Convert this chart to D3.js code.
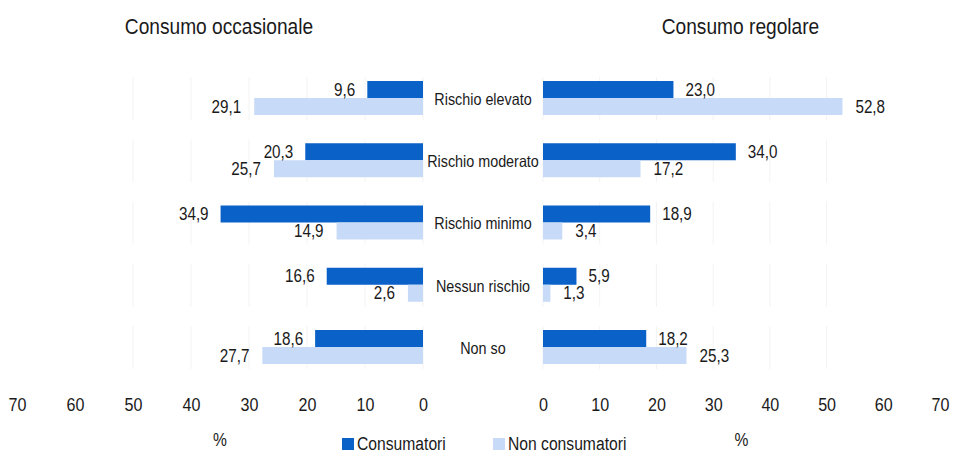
<!DOCTYPE html>
<html lang="it">
<head>
  <meta charset="UTF-8">
  <title>Consumo occasionale / regolare</title>
  <style>
    body { margin: 0; background: #fff; }
    svg { display: block; }
    text {
      font-family: "Liberation Sans", Arial, sans-serif;
      fill: #1a1a1a;
    }
    .grid line { stroke: #f3f3f3; stroke-width: 1; }
  </style>
</head>
<body>
  <script src="https://d3js.org/d3.v7.min.js"></script>
  <script>
    // data
    const categories = ['Rischio elevato', 'Rischio moderato', 'Rischio minimo', 'Nessun rischio', 'Non so'];
    const occasionaleConsumatori = [9.6, 20.3, 34.9, 16.6, 18.6];
    const occasionaleNonConsumatori = [29.1, 25.7, 14.9, 2.6, 27.7];
    const regolareConsumatori = [23.0, 34.0, 18.9, 5.9, 18.2];
    const regolareNonConsumatori = [52.8, 17.2, 3.4, 1.3, 25.3];
    const tickValues = [0, 10, 20, 30, 40, 50, 60, 70];
    const seriesNames = ['Consumatori', 'Non consumatori'];
    const panelTitles = ['Consumo occasionale', 'Consumo regolare'];

    const WIDTH = 955;
    const HEIGHT = 454;
    const DARK = '#0a62c8';
    const LIGHT = '#c7daf7';
    const BAR_H = 17;
    const NARROW = 0.87; // the original uses a condensed face

    const svg = d3.select('body').append('svg')
      .attr('width', WIDTH)
      .attr('height', HEIGHT);

    const xLeft = d3.scaleLinear().domain([0, 70]).range([423, 17]);
    const xRight = d3.scaleLinear().domain([0, 70]).range([543, 940]);
    const y = d3.scalePoint().domain(categories).range([98, 347]);

    const fmt = v => d3.format('.1f')(v).replace('.', ',');

    function drawPanel (xScale, dark, light, side, title) {
      const g = svg.append('g');
      const dir = side === 'left' ? -1 : 1;

      // faint grid inside each group
      const grid = g.append('g').attr('class', 'grid');
      categories.forEach(c => {
        grid.selectAll(null)
          .data(tickValues.filter(t => t <= 50))
          .enter().append('line')
          .attr('x1', d => xScale(d)).attr('x2', d => xScale(d))
          .attr('y1', y(c) - 21).attr('y2', y(c) + 22);
      });

      const rows = categories.map((c, i) => ({ c, dark: dark[i], light: light[i] }));

      // bars
      g.selectAll('.bar-dark').data(rows).enter().append('rect')
        .attr('class', 'bar-dark')
        .attr('x', d => Math.min(xScale(0), xScale(d.dark)))
        .attr('width', d => Math.abs(xScale(d.dark) - xScale(0)))
        .attr('y', d => y(d.c) - BAR_H)
        .attr('height', BAR_H)
        .attr('fill', DARK);

      g.selectAll('.bar-light').data(rows).enter().append('rect')
        .attr('class', 'bar-light')
        .attr('x', d => Math.min(xScale(0), xScale(d.light)))
        .attr('width', d => Math.abs(xScale(d.light) - xScale(0)))
        .attr('y', d => y(d.c))
        .attr('height', BAR_H)
        .attr('fill', LIGHT);

      // value labels
      const anchor = side === 'left' ? 'end' : 'start';
      g.selectAll('.lab-dark').data(rows).enter().append('text')
        .attr('x', d => xScale(d.dark) + dir * 12)
        .attr('y', d => y(d.c) - BAR_H / 2)
        .attr('dy', '0.35em')
        .attr('text-anchor', anchor)
        .attr('font-size', 17.5)
        .text(d => fmt(d.dark));

      g.selectAll('.lab-light').data(rows).enter().append('text')
        .attr('x', d => xScale(d.light) + dir * 13)
        .attr('y', d => y(d.c) + BAR_H / 2)
        .attr('dy', '0.35em')
        .attr('text-anchor', anchor)
        .attr('font-size', 17.5)
        .text(d => fmt(d.light));

      // axis tick labels only
      const axis = d3.axisBottom(xScale).tickValues(tickValues).tickSize(0).tickPadding(0);
      const ax = g.append('g').attr('transform', 'translate(0,398)').call(axis);
      ax.select('.domain').remove();
      ax.attr('font-family', null).attr('font-size', null);
      ax.selectAll('text')
        .attr('font-size', 18.5)
        .attr('dy', '0.71em')
        .attr('fill', '#1a1a1a');

      // % label
      g.append('text')
        .attr('x', xScale(35))
        .attr('y', 446)
        .attr('text-anchor', 'middle')
        .attr('font-size', 18)
        .text('%');

      // title
      g.append('text')
        .attr('x', (xScale(0) + xScale(70)) / 2 - 1)
        .attr('y', 34)
        .attr('text-anchor', 'middle')
        .attr('font-size', 22)
        .text(title);
    }

    drawPanel(xLeft, occasionaleConsumatori, occasionaleNonConsumatori, 'left', panelTitles[0]);
    drawPanel(xRight, regolareConsumatori, regolareNonConsumatori, 'right', panelTitles[1]);

    // category labels in the middle
    svg.append('g').selectAll('text').data(categories).enter().append('text')
      .attr('x', 483)
      .attr('y', d => y(d) + 1)
      .attr('dy', '0.35em')
      .attr('text-anchor', 'middle')
      .attr('font-size', 16.5)
      .text(d => d);

    // legend
    const legend = svg.append('g');
    const legendItems = [
      { name: seriesNames[0], color: DARK, x: 342 },
      { name: seriesNames[1], color: LIGHT, x: 493 }
    ];
    legendItems.forEach(it => {
      legend.append('rect')
        .attr('x', it.x).attr('y', 438)
        .attr('width', 12).attr('height', 12)
        .attr('fill', it.color);
      legend.append('text')
        .attr('x', it.x + 15).attr('y', 450)
        .attr('font-size', 18)
        .text(it.name);
    });

    // squeeze every text to mimic the condensed typeface
    svg.selectAll('text').each(function () {
      const len = this.getComputedTextLength();
      this.setAttribute('textLength', (len * NARROW).toFixed(1));
      this.setAttribute('lengthAdjust', 'spacingAndGlyphs');
    });
  </script>
</body>
</html>
